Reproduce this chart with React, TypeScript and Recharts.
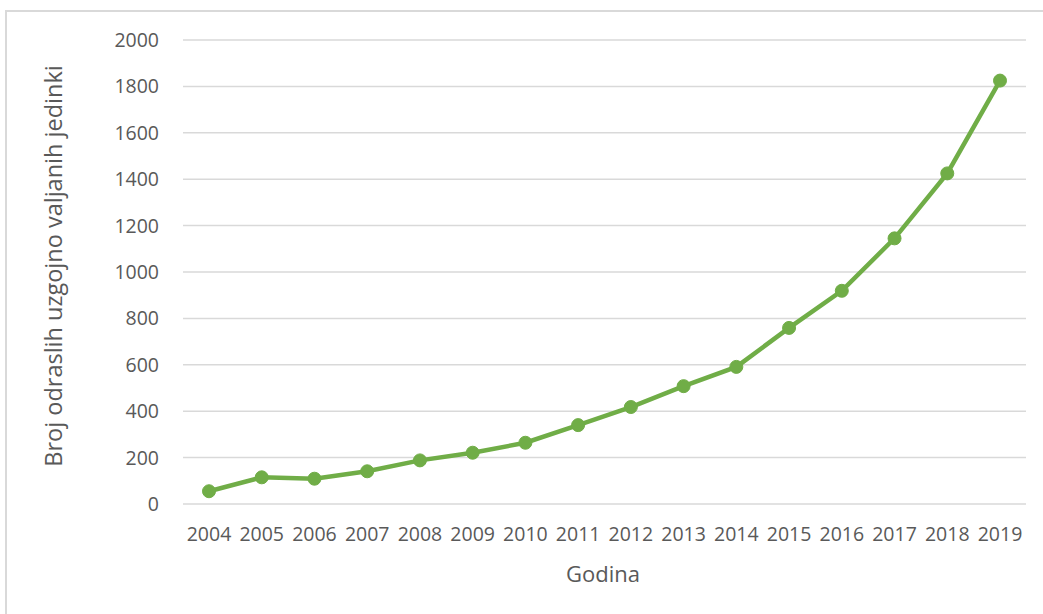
import { LineChart, Line, XAxis, YAxis, CartesianGrid, Label } from 'recharts'

const years = ['2004', '2005', '2006', '2007', '2008', '2009', '2010', '2011', '2012', '2013', '2014', '2015', '2016', '2017', '2018', '2019']
const counts = [55, 115, 109, 141, 188, 221, 264, 340, 418, 508, 591, 759, 919, 1145, 1425, 1825]
const yTicks = [0, 200, 400, 600, 800, 1000, 1200, 1400, 1600, 1800, 2000]

const data = years.map((year, i) => ({ year, count: counts[i] }))

const FONT = '"Open Sans", sans-serif'
const TEXT = '#595959'

export default function App() {
  return (
    <div style={{ position: 'absolute', left: 0, top: 0, width: 1043, height: 614, overflow: 'hidden', background: '#fff' }}>
      <div
        style={{
          position: 'absolute',
          left: 5,
          top: 10,
          width: 1100,
          height: 700,
          border: '2px solid #d9d9d9',
        }}
      />
      <div style={{ position: 'absolute', left: 0, top: 0 }}>
        <LineChart width={1043} height={614} data={data} margin={{ top: 40, right: 17, bottom: 0, left: 0 }}>
          <CartesianGrid vertical={false} stroke="#d9d9d9" strokeWidth={1.5} />
          <XAxis
            dataKey="year"
            height={110}
            axisLine={false}
            tickLine={false}
            tickSize={0}
            tickMargin={23}
            padding={{ left: 26, right: 26 }}
            interval={0}
            tick={{ fill: TEXT, fontSize: 19.5, fontFamily: FONT }}
          >
            <Label
              content={() => (
                <text x={603} y={582} textAnchor="middle" fill={TEXT} fontSize={22} fontFamily={FONT}>
                  Godina
                </text>
              )}
            />
          </XAxis>
          <YAxis
            width={183}
            domain={[0, 2000]}
            ticks={yTicks}
            axisLine={false}
            tickLine={false}
            tickSize={0}
            tickMargin={24}
            tick={{ fill: TEXT, fontSize: 19.5, fontFamily: FONT }}
          >
            <Label
              content={() => (
                <text
                  x={62}
                  y={266}
                  transform="rotate(-90 62 266)"
                  textAnchor="middle"
                  fill={TEXT}
                  fontSize={23.5}
                  fontFamily={FONT}
                >
                  Broj odraslih uzgojno valjanih jedinki
                </text>
              )}
            />
          </YAxis>
          <Line
            type="linear"
            dataKey="count"
            stroke="#70ad47"
            strokeWidth={4.5}
            dot={{ r: 6.5, fill: '#70ad47', stroke: '#70ad47', strokeWidth: 1 }}
            activeDot={false}
            isAnimationActive={false}
          />
        </LineChart>
      </div>
    </div>
  )
}
